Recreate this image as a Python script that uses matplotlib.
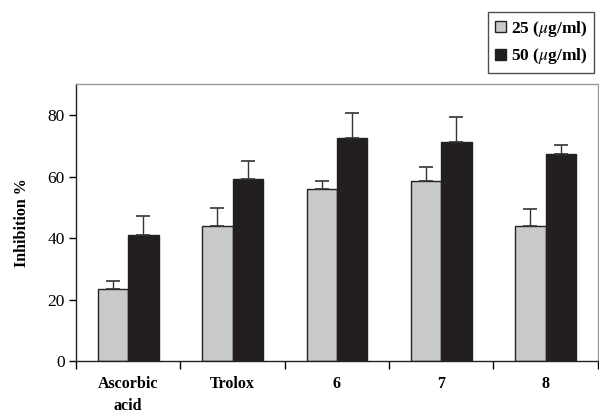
import numpy as np
import matplotlib.pyplot as plt

categories = ["Ascorbic\nacid", "Trolox", "6", "7", "8"]
series_labels = ["25 ($\\mu$g/ml)", "50 ($\\mu$g/ml)"]
vals_25 = [23.5, 43.9, 56.0, 58.4, 43.9]
vals_50 = [41.1, 59.3, 72.4, 71.1, 67.3]
err_25 = [2.5, 6.0, 2.4, 4.6, 5.6]
err_50 = [6.0, 5.7, 8.4, 8.4, 2.8]

plt.rcParams['font.family'] = ['Liberation Serif', 'DejaVu Serif']
plt.rcParams['mathtext.fontset'] = 'stix'

fig = plt.figure(figsize=(5.99, 4.19), dpi=100)
ax = fig.add_axes([0.127, 0.138, 0.871, 0.661])

x = np.arange(len(categories))
w = 0.29
colors = ["#c8c9cb", "#231f20"]

for vals, errs, off, col, lab in [(vals_25, err_25, -w / 2, colors[0], series_labels[0]),
                                  (vals_50, err_50, w / 2, colors[1], series_labels[1])]:
    ax.bar(x + off, vals, w, color=col, edgecolor="#222222", linewidth=1.0, label=lab,
           yerr=[np.zeros(len(errs)), errs], capsize=5,
           error_kw=dict(ecolor="#333333", elinewidth=1.0, capthick=1.2))

ax.set_xlim(-0.5, len(categories) - 0.5)
ax.set_ylim(0, 90)
ax.set_yticks([0, 20, 40, 60, 80])
ax.tick_params(axis='y', labelsize=12.5, direction='out', length=5, width=1, pad=3)
ax.set_xticks(x)
ax.set_xticklabels(categories, fontsize=11.5, fontweight='bold', linespacing=1.5)
ax.tick_params(axis='x', length=0, pad=11)
ax.set_xticks(np.arange(len(categories) + 1) - 0.5, minor=True)
ax.tick_params(axis='x', which='minor', length=6, width=1, direction='out')

ax.set_ylabel("Inhibition %", fontsize=11.5, fontweight='bold', labelpad=13)

for s in ['left', 'bottom']:
    ax.spines[s].set_color("#222222")
    ax.spines[s].set_linewidth(1.0)
for s in ['top', 'right']:
    ax.spines[s].set_color("#999999")
    ax.spines[s].set_linewidth(1.0)

leg = fig.legend(loc='upper left', bbox_to_anchor=(0.815, 0.972), borderaxespad=0,
                 frameon=True, fancybox=False, edgecolor="#222222",
                 prop={'weight': 'bold', 'size': 12.5}, handlelength=0.6, handleheight=0.6,
                 handletextpad=0.3, borderpad=0.4, labelspacing=0.45)
leg.get_frame().set_linewidth(1.0)

fig.savefig("out.png", dpi=100)
